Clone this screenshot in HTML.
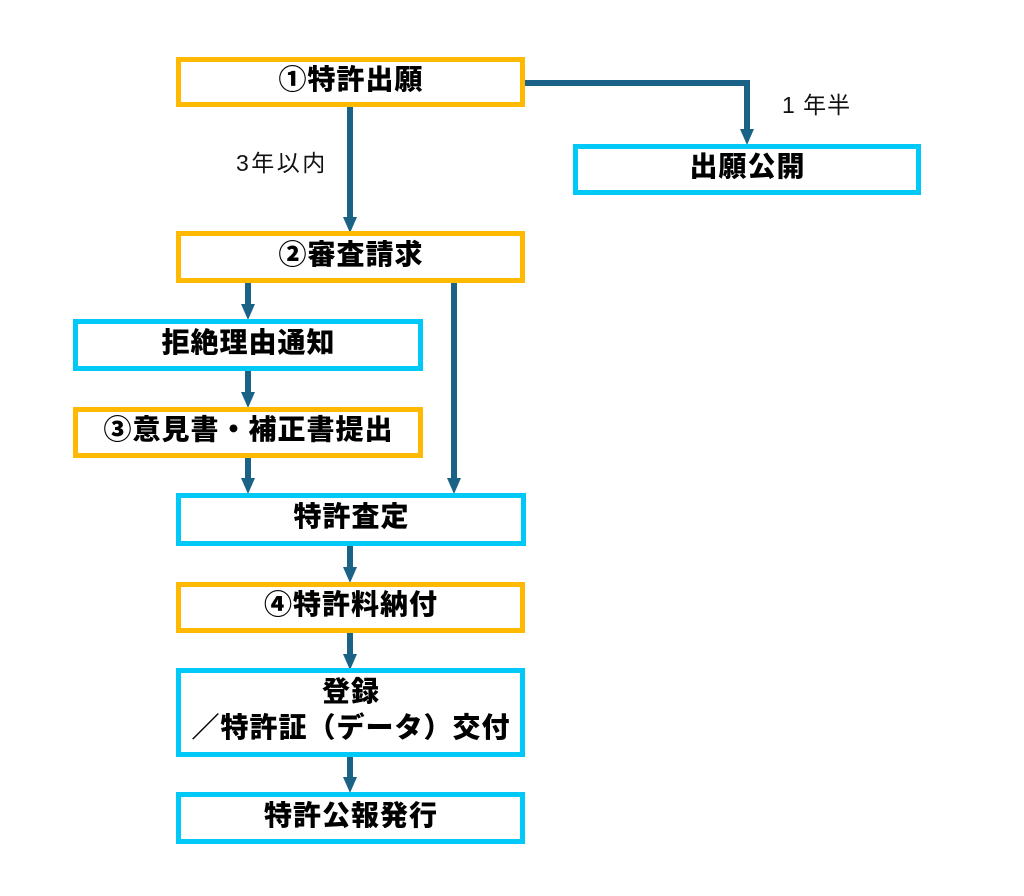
<!DOCTYPE html>
<html>
<head>
<meta charset="utf-8">
<style>
  html, body { margin: 0; padding: 0; background: #ffffff; }
  body { width: 1024px; height: 896px; position: relative; overflow: hidden; }
  .box {
    position: absolute;
    box-sizing: border-box;
    border: 5px solid;
    background: #ffffff;
    display: flex;
    align-items: center;
    justify-content: center;
    text-align: center;
    font-family: "Liberation Sans", "Noto Sans CJK JP", sans-serif;
    font-weight: 900;
    font-size: 28px;
    letter-spacing: 1px;
    padding-left: 1px;
    padding-bottom: 5px;
    color: #000000;
    line-height: 36px;
  }
  .o { border-color: #FFB900; }
  .b { border-color: #00C8F7; }
  .lbl {
    position: absolute;
    font-family: "Liberation Sans", "Noto Sans CJK JP", sans-serif;
    font-size: 23px;
    color: #111111;
    line-height: 24px;
    white-space: nowrap;
  }
  svg { position: absolute; left: 0; top: 0; }
</style>
</head>
<body>

<svg width="1024" height="896" viewBox="0 0 1024 896">
  <g stroke="#1B6386" stroke-width="6" fill="none">
    <line x1="350" y1="107" x2="350" y2="218"/>
    <polyline points="524,83 747,83 747,130"/>
    <line x1="248" y1="283" x2="248" y2="305"/>
    <line x1="248" y1="371" x2="248" y2="393"/>
    <line x1="248" y1="458" x2="248" y2="479"/>
    <line x1="454" y1="283" x2="454" y2="479"/>
    <line x1="350" y1="546" x2="350" y2="568"/>
    <line x1="350" y1="633" x2="350" y2="655"/>
    <line x1="350" y1="756" x2="350" y2="778"/>
  </g>
  <g fill="#1B6386">
    <polygon points="343,217 357,217 350,233"/>
    <polygon points="740,129 754,129 747,145"/>
    <polygon points="241,304 255,304 248,320"/>
    <polygon points="241,392 255,392 248,408"/>
    <polygon points="241,478 255,478 248,494"/>
    <polygon points="447,478 461,478 454,494"/>
    <polygon points="343,567 357,567 350,583"/>
    <polygon points="343,654 357,654 350,670"/>
    <polygon points="343,777 357,777 350,793"/>
  </g>
</svg>

<div class="box o" style="left:176px; top:57px; width:349px; height:50px;">①特許出願</div>
<div class="box b" style="left:573px; top:144px; width:348px; height:51px;">出願公開</div>
<div class="box o" style="left:176px; top:231px; width:349px; height:52px;">②審査請求</div>
<div class="box b" style="left:73px; top:319px; width:350px; height:52px;">拒絶理由通知</div>
<div class="box o" style="left:73px; top:407px; width:350px; height:51px;">③意見書・補正書提出</div>
<div class="box b" style="left:176px; top:493px; width:350px; height:53px;">特許査定</div>
<div class="box o" style="left:176px; top:582px; width:349px; height:51px;">④特許料納付</div>
<div class="box b" style="left:176px; top:668px; width:349px; height:89px;">登録<br>／特許証（データ）交付</div>
<div class="box b" style="left:176px; top:792px; width:349px; height:52px;">特許公報発行</div>

<div class="lbl" style="left:236px; top:151px; letter-spacing:2.5px;">3年以内</div>
<div class="lbl" style="left:782px; top:93px; letter-spacing:1px;">1 年半</div>

</body>
</html>
